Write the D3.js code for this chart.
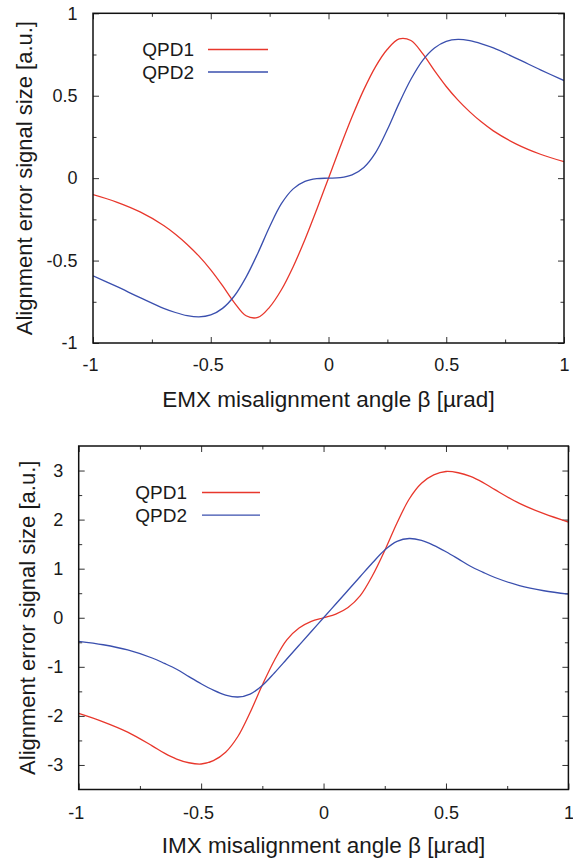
<!DOCTYPE html>
<html>
<head>
<meta charset="utf-8">
<script src="https://cdn.jsdelivr.net/npm/d3@7"></script>
<style>
  html, body { margin: 0; padding: 0; background: #fff; }
  svg { display: block; }
  text { font-family: "Liberation Sans", Arial, Helvetica, sans-serif; fill: #1a1a1a; }
</style>
</head>
<body>
<svg id="chart" width="573" height="861"></svg>
<script>
// ---- EMX panel: error signal vs. misalignment angle ----
const emxBeta = [-1, -0.9, -0.8, -0.7, -0.65, -0.6, -0.55, -0.5, -0.45, -0.4, -0.35, -0.3, -0.25, -0.2, -0.15, -0.1, -0.05, 0,
                 0.05, 0.1, 0.15, 0.2, 0.25, 0.3, 0.35, 0.4, 0.45, 0.5, 0.55, 0.6, 0.65, 0.7, 0.8, 0.9, 1];
const emxQPD1 = [-0.10, -0.145, -0.205, -0.287, -0.34, -0.402, -0.473, -0.556, -0.652, -0.755, -0.835, -0.845, -0.782, -0.677, -0.537, -0.372, -0.19, 0,
                 0.19, 0.372, 0.537, 0.677, 0.782, 0.845, 0.835, 0.755, 0.652, 0.556, 0.473, 0.402, 0.34, 0.287, 0.205, 0.145, 0.10];
const emxQPD2 = [-0.592, -0.657, -0.725, -0.79, -0.815, -0.834, -0.842, -0.83, -0.79, -0.715, -0.60, -0.455, -0.295, -0.155, -0.065, -0.02, -0.003, 0,
                 0.003, 0.02, 0.065, 0.155, 0.295, 0.455, 0.60, 0.715, 0.79, 0.83, 0.842, 0.834, 0.815, 0.79, 0.725, 0.657, 0.592];

// ---- IMX panel ----
const imxBeta = [-1, -0.9, -0.8, -0.7, -0.65, -0.6, -0.55, -0.5, -0.45, -0.4, -0.35, -0.3, -0.25, -0.2, -0.15, -0.1, -0.05, 0,
                 0.05, 0.1, 0.15, 0.2, 0.25, 0.3, 0.35, 0.4, 0.45, 0.5, 0.55, 0.6, 0.65, 0.7, 0.8, 0.9, 1];
const imxQPD1 = [-1.95, -2.12, -2.33, -2.61, -2.76, -2.88, -2.955, -2.98, -2.91, -2.74, -2.42, -1.93, -1.37, -0.86, -0.45, -0.21, -0.075, 0,
                 0.075, 0.21, 0.45, 0.86, 1.37, 1.93, 2.42, 2.74, 2.91, 2.98, 2.955, 2.88, 2.76, 2.61, 2.33, 2.12, 1.95];
const imxQPD2 = [-0.48, -0.55, -0.655, -0.82, -0.93, -1.05, -1.20, -1.345, -1.475, -1.575, -1.615, -1.555, -1.38, -1.12, -0.84, -0.56, -0.28, 0,
                 0.28, 0.56, 0.84, 1.12, 1.38, 1.555, 1.615, 1.575, 1.475, 1.345, 1.20, 1.05, 0.93, 0.82, 0.655, 0.55, 0.48];

// ---- ticks ----
const xMajor = [-1, -0.5, 0, 0.5, 1];
const xMajorLabels = ["-1", "-0.5", "0", "0.5", "1"];
const xMinor = [-0.75, -0.25, 0.25, 0.75];
const emxYMajor = [-1, -0.5, 0, 0.5, 1];
const emxYLabels = ["-1", "-0.5", "0", "0.5", "1"];
const emxYMinor = [-0.75, -0.25, 0.25, 0.75];
const imxYMajor = [-3, -2, -1, 0, 1, 2, 3];
const imxYLabels = ["-3", "-2", "-1", "0", "1", "2", "3"];
const imxYMinor = [-2.5, -1.5, -0.5, 0.5, 1.5, 2.5];

const seriesNames = ["QPD1", "QPD2"];
const seriesColors = ["#e8372c", "#3a4fae"];

const svg = d3.select("#chart");

function drawPanel(opt) {
  const g = svg.append("g");
  const x = d3.scaleLinear().domain([-1, 1]).range([opt.left, opt.right]);
  const y = d3.scaleLinear().domain(opt.yDomain).range([opt.bottom, opt.top]);
  const MAJ = 6, MIN = 3.5;

  const clean = sel => { sel.select(".domain").remove(); sel.selectAll(".tick line").attr("stroke", "#333").attr("stroke-width", 1); };
  const styleText = (sel, size) => sel.selectAll("text").attr("font-size", size).attr("fill", "#1a1a1a")
      .attr("font-family", '"Liberation Sans", Arial, Helvetica, sans-serif');

  // bottom axis (labels) and its minor ticks
  g.append("g").attr("transform", `translate(0,${opt.bottom})`)
    .call(d3.axisBottom(x).tickValues(xMajor).tickFormat((d, i) => xMajorLabels[i])
      .tickSizeInner(-MAJ).tickSizeOuter(0).tickPadding(opt.xPad))
    .call(clean).call(s => styleText(s, 18))
    .call(s => s.selectAll("text").attr("dx", d => d < 0 ? "-0.17em" : 0));
  g.append("g").attr("transform", `translate(0,${opt.bottom})`)
    .call(d3.axisBottom(x).tickValues(xMinor).tickFormat("").tickSizeInner(-MIN).tickSizeOuter(0)).call(clean);
  // mirrored top ticks
  g.append("g").attr("transform", `translate(0,${opt.top})`)
    .call(d3.axisTop(x).tickValues(xMajor).tickFormat("").tickSizeInner(-MAJ).tickSizeOuter(0)).call(clean);
  g.append("g").attr("transform", `translate(0,${opt.top})`)
    .call(d3.axisTop(x).tickValues(xMinor).tickFormat("").tickSizeInner(-MIN).tickSizeOuter(0)).call(clean);
  // left axis (labels) and minor ticks
  g.append("g").attr("transform", `translate(${opt.left},0)`)
    .call(d3.axisLeft(y).tickValues(opt.yMajor).tickFormat((d, i) => opt.yLabels[i])
      .tickSizeInner(-MAJ).tickSizeOuter(0).tickPadding(15.5))
    .call(clean).call(s => styleText(s, 18));
  g.append("g").attr("transform", `translate(${opt.left},0)`)
    .call(d3.axisLeft(y).tickValues(opt.yMinor).tickFormat("").tickSizeInner(-MIN).tickSizeOuter(0)).call(clean);
  // mirrored right ticks
  g.append("g").attr("transform", `translate(${opt.right},0)`)
    .call(d3.axisRight(y).tickValues(opt.yMajor).tickFormat("").tickSizeInner(-MAJ).tickSizeOuter(0)).call(clean);
  g.append("g").attr("transform", `translate(${opt.right},0)`)
    .call(d3.axisRight(y).tickValues(opt.yMinor).tickFormat("").tickSizeInner(-MIN).tickSizeOuter(0)).call(clean);

  // curves
  const clipId = "clip-" + opt.id;
  g.append("clipPath").attr("id", clipId).append("rect")
    .attr("x", opt.left).attr("y", opt.top).attr("width", opt.right - opt.left).attr("height", opt.bottom - opt.top);
  const line = d3.line().x(d => x(d[0])).y(d => y(d[1])).curve(d3.curveCatmullRom.alpha(0.5));
  opt.series.forEach((vals, k) => {
    g.append("path")
      .datum(opt.beta.map((b, i) => [b, vals[i]]))
      .attr("clip-path", `url(#${clipId})`)
      .attr("fill", "none").attr("stroke", seriesColors[k]).attr("stroke-width", 1.3)
      .attr("d", line);
  });

  // frame
  g.append("rect").attr("x", opt.left).attr("y", opt.top)
    .attr("width", opt.right - opt.left).attr("height", opt.bottom - opt.top)
    .attr("fill", "none").attr("stroke", "#111").attr("stroke-width", 1.5);

  // legend
  seriesNames.forEach((name, k) => {
    const ly = opt.legend.y + k * opt.legend.dy;
    g.append("text").attr("x", opt.legend.textX).attr("y", ly).attr("dy", "0.35em")
      .attr("text-anchor", "end").attr("font-size", 19).text(name);
    g.append("line").attr("x1", opt.legend.x1).attr("x2", opt.legend.x2)
      .attr("y1", ly).attr("y2", ly).attr("stroke", seriesColors[k]).attr("stroke-width", 1.3);
  });

  // axis titles
  g.append("text").attr("x", (opt.left + opt.right) / 2).attr("y", opt.xTitleY)
    .attr("text-anchor", "middle").attr("font-size", 22.5).text(opt.xTitle);
  g.append("text").attr("transform", `translate(${opt.yTitleX},${(opt.top + opt.bottom) / 2}) rotate(-90)`)
    .attr("text-anchor", "middle").attr("font-size", 22).text("Alignment error signal size [a.u.]");
}

drawPanel({
  id: "emx", left: 93, right: 564, top: 13.3, bottom: 343,
  yDomain: [-1, 1], yMajor: emxYMajor, yLabels: emxYLabels, yMinor: emxYMinor,
  beta: emxBeta, series: [emxQPD1, emxQPD2], xPad: 15.5,
  legend: { textX: 194, x1: 208, x2: 268, y: 49.5, dy: 22.5 },
  xTitle: "EMX misalignment angle β [µrad]", xTitleY: 406.7, yTitleX: 32
});

drawPanel({
  id: "imx", left: 78.7, right: 568.4, top: 446, bottom: 789.5,
  yDomain: [-3.5, 3.5], yMajor: imxYMajor, yLabels: imxYLabels, yMinor: imxYMinor,
  beta: imxBeta, series: [imxQPD1, imxQPD2], xPad: 17,
  legend: { textX: 187, x1: 202, x2: 260, y: 492.5, dy: 22.7 },
  xTitle: "IMX misalignment angle β [µrad]", xTitleY: 853.3, yTitleX: 35
});
</script>
</body>
</html>
